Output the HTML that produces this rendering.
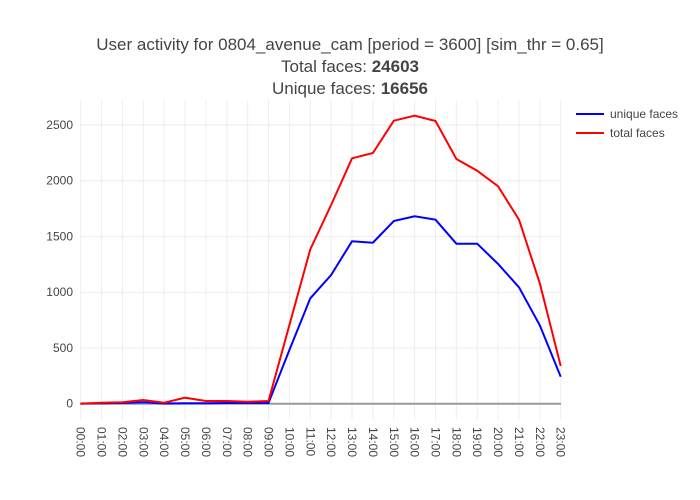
<!DOCTYPE html>
<html><head><meta charset="utf-8"><style>
body{margin:0;background:#fff;}
svg{display:block;font-family:"Liberation Sans",sans-serif;}
</style></head><body>
<svg width="700" height="500" xmlns="http://www.w3.org/2000/svg">
<rect width="700" height="500" fill="#fff"/>
<g text-anchor="middle" fill="#444" font-size="17">
<text x="350" y="50">User activity for 0804_avenue_cam [period = 3600] [sim_thr = 0.65]</text>
<text x="350" y="72">Total faces: <tspan font-weight="bold">24603</tspan></text>
<text x="350" y="94">Unique faces: <tspan font-weight="bold">16656</tspan></text>
</g>
<g id="grid" stroke="#eee" stroke-width="1"></g>
<line x1="80" x2="561" y1="403.7" y2="403.7" stroke="#999" stroke-width="2"/>
<g id="ylab" font-size="12" fill="#444" text-anchor="end"></g>
<g id="xlab" font-size="12" fill="#444"></g>
<polyline id="blue" fill="none" stroke="#0000ff" stroke-width="2"/>
<polyline id="red" fill="none" stroke="#ff0000" stroke-width="2"/>
<line x1="576" x2="604" y1="114" y2="114" stroke="#0000ff" stroke-width="2"/>
<text x="610" y="118" font-size="12" fill="#444">unique faces</text>
<line x1="576" x2="604" y1="133" y2="133" stroke="#ff0000" stroke-width="2"/>
<text x="610" y="137" font-size="12" fill="#444">total faces</text>
</svg>
<script>
var ns="http://www.w3.org/2000/svg";
function el(t,a,p,txt){var e=document.createElementNS(ns,t);for(var k in a)e.setAttribute(k,a[k]);if(txt!=null)e.textContent=txt;document.getElementById(p).appendChild(e);}
var x0=80.7,dx=20.87;
for(var i=0;i<24;i++){var x=x0+i*dx;el('line',{x1:x,x2:x,y1:100,y2:420},'grid');
var h=(i<10?'0':'')+i+':00';el('text',{transform:'translate('+(x-4)+',427) rotate(90)'},'xlab',h);}
for(var j=1;j<=5;j++){var y=403.7-j*55.74;el('line',{x1:80,x2:561,y1:y,y2:y},'grid');}
for(var j=0;j<=5;j++){var y=403.7-j*55.74;el('text',{x:73,y:y+4},'ylab',j*500);}
var R=[403.7,402.7,402.3,400,402.7,397.7,401,401,401.7,401,325,249.3,205,158.3,153,120.7,115.7,121,159,170.7,186.3,219.7,283.3,366];
var B=[403.5,403.3,403,402.3,403.5,403.3,403.2,403,403,403,350,298.3,275,241.3,242.7,221,216.3,219.7,243.7,243.7,264,287.3,325.3,376.7];
function pts(a){return a.map(function(v,i){return (x0+i*dx).toFixed(1)+','+v}).join(' ');}
document.getElementById('red').setAttribute('points',pts(R));
document.getElementById('blue').setAttribute('points',pts(B));
</script>
</body></html>
